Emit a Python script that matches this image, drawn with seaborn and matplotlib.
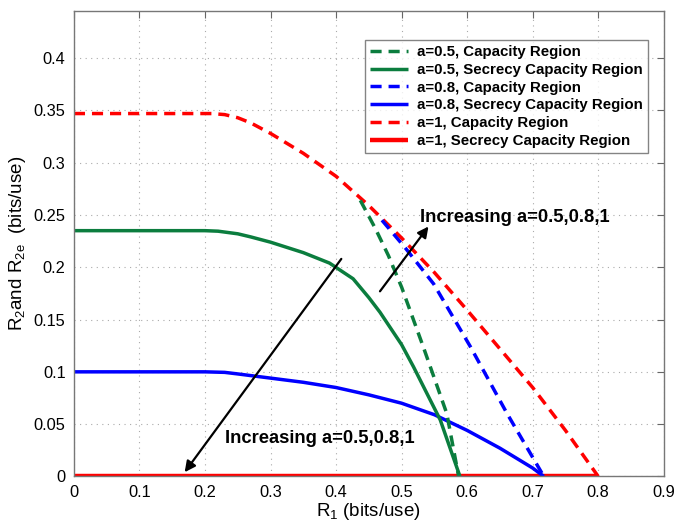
import numpy as np
import pandas as pd
import matplotlib
matplotlib.use("Agg")
import matplotlib.pyplot as plt
import seaborn as sns

# ---- data ----
red_cap_x = [0.0, 0.21, 0.23, 0.25, 0.27, 0.30, 0.35, 0.40, 0.45, 0.50, 0.55, 0.60, 0.65, 0.70, 0.75, 0.80]
red_cap_y = [0.347, 0.347, 0.346, 0.343, 0.338, 0.328, 0.309, 0.287, 0.259, 0.228, 0.195, 0.159, 0.122, 0.085, 0.044, 0.0]

green_cap_x = [0.437, 0.46, 0.48, 0.50, 0.533, 0.569, 0.587]
green_cap_y = [0.264, 0.237, 0.211, 0.181, 0.124, 0.060, 0.0]

blue_cap_x = [0.47, 0.505, 0.549, 0.605, 0.661, 0.717]
blue_cap_y = [0.245, 0.219, 0.184, 0.124, 0.060, 0.0]

green_sec_x = [0.0, 0.20, 0.22, 0.25, 0.27, 0.30, 0.35, 0.39, 0.426, 0.45, 0.467, 0.50, 0.518, 0.559, 0.589]
green_sec_y = [0.235, 0.235, 0.2345, 0.232, 0.229, 0.224, 0.214, 0.204, 0.189, 0.171, 0.157, 0.126, 0.105, 0.054, 0.0]

blue_sec_x = [0.0, 0.20, 0.23, 0.25, 0.30, 0.35, 0.40, 0.45, 0.50, 0.55, 0.60, 0.65, 0.70, 0.717]
blue_sec_y = [0.100, 0.100, 0.0995, 0.098, 0.094, 0.090, 0.085, 0.078, 0.070, 0.059, 0.044, 0.027, 0.008, 0.0]

red_sec_x = [0.0, 0.8]
red_sec_y = [0.0, 0.0]

labels = ["a=0.5, Capacity Region", "a=0.5, Secrecy Capacity Region",
          "a=0.8, Capacity Region", "a=0.8, Secrecy Capacity Region",
          "a=1, Capacity Region", "a=1, Secrecy Capacity Region"]
annot_text = "Increasing a=0.5,0.8,1"
x_ticks = [0, 0.1, 0.2, 0.3, 0.4, 0.5, 0.6, 0.7, 0.8, 0.9]
y_ticks = [0, 0.05, 0.1, 0.15, 0.2, 0.25, 0.3, 0.35, 0.4]

# ---- style ----
sns.set_style("white")
plt.rcParams['font.family'] = ['Liberation Sans', 'DejaVu Sans']
plt.rcParams['mathtext.fontset'] = 'custom'
plt.rcParams['mathtext.rm'] = 'Liberation Sans'
plt.rcParams['mathtext.it'] = 'Liberation Sans'
plt.rcParams['text.color'] = 'black'
plt.rcParams['axes.labelcolor'] = 'black'
plt.rcParams['xtick.labelcolor'] = 'black'
plt.rcParams['ytick.labelcolor'] = 'black'

GREEN = '#0b7d3e'
BLUE = '#0000ff'
RED = '#ff0000'
DASH = (0, (3.2, 2.0))

fig = plt.figure(figsize=(6.78, 5.27), dpi=100)
ax = fig.add_axes([0.109, 0.096, 0.870, 0.883])

series = [
    (red_sec_x, red_sec_y, RED, '-', 3.2, labels[5]),
    (blue_sec_x, blue_sec_y, BLUE, '-', 2.5, labels[3]),
    (green_sec_x, green_sec_y, GREEN, '-', 2.5, labels[1]),
    (red_cap_x, red_cap_y, RED, DASH, 2.5, labels[4]),
    (blue_cap_x, blue_cap_y, BLUE, DASH, 2.5, labels[2]),
    (green_cap_x, green_cap_y, GREEN, DASH, 2.5, labels[0]),
]
handles = {}
for xs, ys, c, ls, lw, lab in series:
    df = pd.DataFrame({"x": xs, "y": ys})
    sns.lineplot(data=df, x="x", y="y", ax=ax, color=c, linestyle=ls,
                 linewidth=lw, sort=False, estimator=None, label=lab,
                 solid_capstyle='butt', dash_capstyle='butt',
                 solid_joinstyle='round')
    handles[lab] = ax.lines[-1]

ax.set_xlim(0, 0.9)
ax.set_ylim(0, 0.445)
ax.set_xticks(x_ticks)
ax.set_xticklabels([f"{v:g}" for v in x_ticks])
ax.set_yticks(y_ticks)
ax.set_yticklabels([f"{v:g}" for v in y_ticks])
ax.tick_params(direction='in', length=5, width=0.8, color='#666666',
               labelsize=11.8, top=True, right=True, pad=6)
ax.grid(True, linestyle=(0, (1, 4)), color='#aaaaaa', linewidth=0.8)
for s in ax.spines.values():
    s.set_color('#777777')
    s.set_linewidth(1.0)

ax.set_xlabel(r"R$_1$ (bits/use)", fontsize=13.5, labelpad=1)
ax.set_ylabel(r"R$_2$and R$_{2e}$  (bits/use)", fontsize=13.5, labelpad=4)

# arrows + annotations
ax.annotate("", xy=(0.169, 0.004), xytext=(0.408, 0.208),
            arrowprops=dict(arrowstyle='-|>', color='black', lw=1.6,
                            mutation_scale=16, shrinkA=0, shrinkB=0))
ax.annotate("", xy=(0.541, 0.239), xytext=(0.467, 0.177),
            arrowprops=dict(arrowstyle='-|>', color='black', lw=1.6,
                            mutation_scale=16, shrinkA=0, shrinkB=0))
ax.text(0.528, 0.248, annot_text, fontsize=13.2, fontweight='bold',
        va='center', ha='left')
ax.text(0.231, 0.036, annot_text, fontsize=13.2, fontweight='bold',
        va='center', ha='left')

leg = ax.legend([handles[l] for l in labels], labels,
                loc='upper right', bbox_to_anchor=(0.973, 0.938),
                prop={'weight': 'bold', 'size': 10.8},
                frameon=True, fancybox=False, edgecolor='#666666',
                handlelength=2.5, handletextpad=0.6, labelspacing=0.25,
                borderpad=0.35, borderaxespad=0)
leg.get_frame().set_linewidth(1.0)

fig.savefig("out.png", dpi=100)
